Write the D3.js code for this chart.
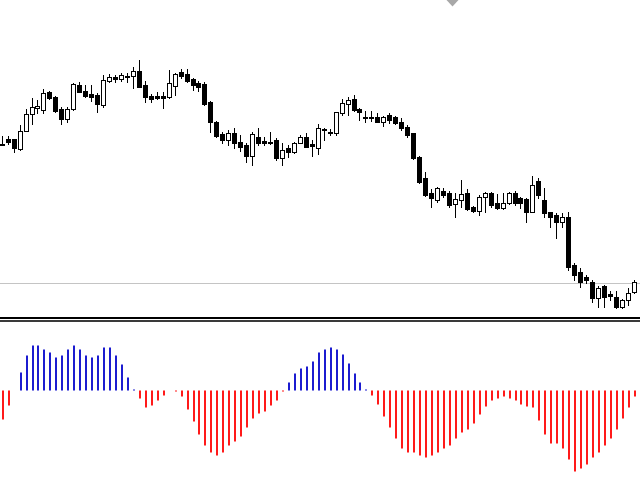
<!DOCTYPE html>
<html>
<head>
<meta charset="utf-8">
<script src="https://cdn.jsdelivr.net/npm/d3@7"></script>
<style>
  html, body { margin: 0; padding: 0; background: #ffffff; }
  svg { display: block; }
</style>
</head>
<body>
<div id="chart"></div>
<script>
// ---- Data (price units are arbitrary) ----
const opens  = [176.5,181.3,181,171,189.3,205.7,212.5,210,227.7,222.7,211.3,200.7,210.7,235,229.3,226,225,215,239.3,243.3,241,244,244.3,249,235,224.3,224.3,224.3,223.3,234,247.7,245.7,241,236.7,235.7,218,197.7,185.7,180,187.3,178.3,175,164,182.7,179.3,178,180,161.7,171.7,168.3,177.3,182.7,175.7,172,191.5,188.3,186.7,206.7,216,220.7,211,203.3,203.3,203.3,198.3,205,202.7,198.3,193.3,186.7,163,142,126.7,120,129.3,126.7,116,120,126.7,113.3,109.3,122.7,126.7,117.3,111.7,116.7,127.3,121.7,120.7,108.3,139.3,120,107.7,105,98.3,102.7,55,48.3,42.7,38.3,21.7,34,26,22.7,13.3,20,28.3];
const highs  = [184,184,181.3,195,211.3,222.3,220,231.3,229.3,224,213.3,213.3,236.7,238.3,235,235.3,226.7,245,245.7,245,246.7,246.7,253.3,260,239,225.7,228.3,228.3,250,246.7,251,251,241.7,239,238,218.5,198.5,188.3,190,192.3,185,176.7,188.3,191.7,183.3,188.3,181.7,177.3,175,178.3,185,186.7,180,195.7,191.7,190.7,208.3,220.7,223,225.5,211.7,209.3,209.3,207.3,204,206.7,204,201.7,195,187.5,164,148,130.7,133.3,131.7,129.3,127.3,140,130.7,114,125,128.3,127.7,126,126.7,128.3,129.3,123.3,121.7,144,141.7,131.7,108.3,106.7,106.7,108.3,56.7,51.7,45,40,34,35,29.3,29.3,21,31.7,40];
const lows   = [175,176,168.3,170.5,189,196,206.7,207.3,221,208,196,198.3,210,227.7,222.7,219.3,208.3,213.3,238.3,237.7,239,238.3,232.3,232.7,218.3,218.3,220.7,212.3,222.3,225,242.3,238.3,230,229,215,188.3,183.3,176.7,175,171.7,169.3,158.3,155,175,175,176.5,160,155,162.7,167.3,176.7,172.7,164,166,180,185,185,205,205,209.3,200,198.3,199.3,197.7,194.3,196.7,196,190,183.3,161,136.7,124,113.3,118.3,122.7,113.3,103.3,113.3,110,108.3,105,108.3,113.3,111,111.5,116,115,111.7,98.3,108,121.7,103.3,93.3,81.7,93.3,50,40,33.3,36.7,18.3,13.3,13.3,20,11.7,12.5,15,26.7];
const closes = [175.5,178,171.7,189.3,206,213.3,213.5,227.3,221.7,209.3,200.7,211.3,236,228.3,224,222.7,215.7,240,243.3,241,245,243,249,233.3,222.7,220.7,221.7,221.7,236.7,245.7,244.3,239,235,233.3,215.7,198,184,180,186.7,176.7,173.3,164,185.7,176.7,176.7,176.7,161.7,170,168.3,177.3,183.3,173.3,174,191.7,190,187.3,207.7,216.7,220.5,210,208.3,202.3,202,198.3,202.7,200,197.3,191.7,185,161.7,138.3,125,121.7,131.7,125,115,120.7,126,110.7,109,122.7,126.7,115,111.7,117.3,127.3,116.7,117.3,108.3,135,125,106.7,103.3,98.3,102.7,53.3,45,38.3,40,21.7,31.7,23.3,24,13.3,20,27.3,38.3];
// Oscillator histogram values
const oscValues = [-29,-15,0,18,35,45,45,41,38,33,35,41,45,41,35,33,35,43,43,35,26,13,1,-8,-17,-15,-10,-5,0,-1,-6,-19,-31,-44,-55,-62,-65,-62,-55,-51,-46,-37,-28,-23,-21,-15,-10,-1,8,17,22,24,29,38,41,43,41,36,27,17,8,1,-5,-14,-26,-37,-48,-58,-62,-62,-65,-67,-65,-62,-58,-55,-48,-42,-39,-33,-24,-16,-10,-8,-6,-8,-10,-14,-16,-17,-30,-44,-53,-53,-58,-69,-81,-78,-74,-67,-62,-55,-48,-39,-28,-17,-6];
const levelPrice = 37.5;

const W = 640, H = 480;
const svg = d3.select("#chart").append("svg").attr("width", W).attr("height", H)
  .style("background", "#ffffff");

const n = opens.length;
const x = d3.scaleLinear().domain([0, n - 1]).range([1.7, 633.8]);
const y = d3.scaleLinear().domain([0, 320]).range([320, 0]);
const yo = d3.scaleLinear().domain([-100, 100]).range([490.5, 290.5]);

// level line
svg.append("line").attr("x1", 0).attr("x2", W)
  .attr("y1", Math.round(y(levelPrice)) + 0.5).attr("y2", Math.round(y(levelPrice)) + 0.5)
  .attr("stroke", "#c4c4c4").attr("stroke-width", 1);

// grey marker triangle at top
svg.append("path").attr("d", "M446.5,0 L458.5,0 L452.5,6.5 Z").attr("fill", "#a8a8a8");

const idx = d3.range(n);
const cxOf = i => Math.round(x(i));

// wicks
svg.append("g").selectAll("line").data(idx).join("line")
  .attr("x1", i => cxOf(i) + 0.5).attr("x2", i => cxOf(i) + 0.5)
  .attr("y1", i => Math.round(y(highs[i]))).attr("y2", i => Math.round(y(lows[i])) + 1)
  .attr("stroke", "#000").attr("stroke-width", 1).attr("shape-rendering", "crispEdges");

// bodies
svg.append("g").selectAll("rect").data(idx).join("rect")
  .attr("x", i => cxOf(i) - 1.5)
  .attr("width", 4)
  .attr("y", i => Math.round(y(Math.max(opens[i], closes[i]))) + 0.5)
  .attr("height", i => Math.max(1, Math.round(y(Math.min(opens[i], closes[i]))) - Math.round(y(Math.max(opens[i], closes[i])))))
  .attr("fill", i => closes[i] >= opens[i] ? "#ffffff" : "#000000")
  .attr("stroke", "#000").attr("stroke-width", 1);

// separator lines
svg.append("rect").attr("x", 0).attr("y", 317).attr("width", W).attr("height", 2).attr("fill", "#000");
svg.append("rect").attr("x", 0).attr("y", 320).attr("width", W).attr("height", 2).attr("fill", "#3a3a3a");

// oscillator histogram
svg.append("g").selectAll("rect").data(idx.filter(i => oscValues[i] !== 0)).join("rect")
  .attr("x", i => cxOf(i))
  .attr("width", 2)
  .attr("y", i => Math.min(yo(oscValues[i]), yo(0)))
  .attr("height", i => Math.max(1, Math.abs(yo(oscValues[i]) - yo(0))))
  .attr("fill", i => oscValues[i] > 0 ? "#1c1cd0" : "#ff1a1a");
</script>
</body>
</html>
